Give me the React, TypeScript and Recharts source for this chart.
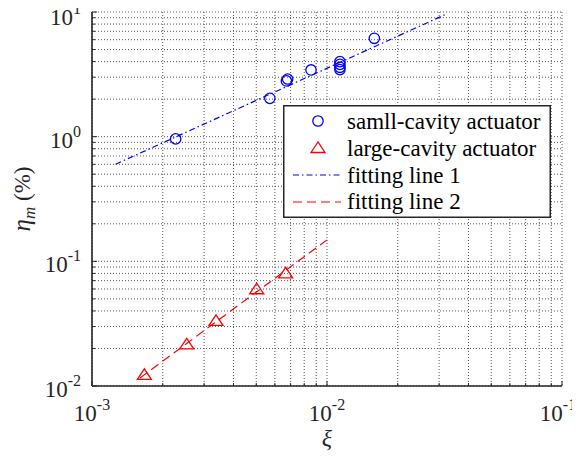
import React from 'react';
import {
    ComposedChart,
    Scatter,
    Line,
    XAxis,
    YAxis,
    CartesianGrid,
    Legend,
} from 'recharts';

const smallXi = [0.00227, 0.00571, 0.00672, 0.0068, 0.00855, 0.01135, 0.01135, 0.01135, 0.01135, 0.0159];
const smallEta = [0.96, 2.03, 2.8, 2.9, 3.43, 4.0, 3.8, 3.6, 3.45, 6.15];

const largeXi = [0.00167, 0.00253, 0.00337, 0.00502, 0.00667];
const largeEta = [0.0123, 0.0216, 0.0333, 0.0597, 0.0802];

// fitting lines (end points)
const fit1Xi = [0.00126, 0.0323];
const fit1Eta = [0.601, 9.65];
const fit2Xi = [0.0016, 0.01];
const fit2Eta = [0.0116, 0.1486];

const seriesNames = ['samll-cavity actuator', 'large-cavity actuator', 'fitting line 1', 'fitting line 2'];

const xMajor = [0.001, 0.01, 0.1];
const yMajor = [0.01, 0.1, 1, 10];
const xExp = ['-3', '-2', '-1'];
const yExp = ['-2', '-1', '0', '1'];

const minorOf = (majors: number[]) => {
    const out: number[] = [];
    majors.forEach((m, i) => {
        out.push(m);
        if (i < majors.length - 1) {
            for (let k = 2; k <= 9; k++) out.push(+(m * k).toPrecision(3));
        }
    });
    return out;
};
const xTicks = minorOf(xMajor);
const yTicks = minorOf(yMajor);

const smallData = smallXi.map((x, i) => ({ x, y: smallEta[i] }));
const largeData = largeXi.map((x, i) => ({ x, y: largeEta[i] }));
const fit1Data = fit1Xi.map((x, i) => ({ x, y: fit1Eta[i] }));
const fit2Data = fit2Xi.map((x, i) => ({ x, y: fit2Eta[i] }));

const SERIF = { fontFamily: "'Liberation Serif', 'DejaVu Serif', serif" };
const FRAME = '#262626';
const BLUE = '#0000ff';
const RED = '#ff0000';

const isMajor = (v: number, majors: number[]) => majors.some((m) => Math.abs(v - m) / m < 1e-6);

const BottomTick = (props: any) => {
    const { x, y, payload } = props;
    const v = payload.value;
    const major = isMajor(v, xMajor);
    const len = major ? 5 : 3;
    const idx = xMajor.findIndex((m) => Math.abs(v - m) / m < 1e-6);
    // last label is pulled in a little, as in the original figure
    const lx = idx === xMajor.length - 1 ? x - 4 : x;
    return (
        <g>
            <line x1={x} x2={x} y1={y} y2={y - len} stroke={FRAME} strokeWidth={1} />
            {major && (
                <text x={lx} y={y + 35} textAnchor="middle" style={SERIF} fontSize={23} fill="#262626">
                    10
                    <tspan dy={-11} fontSize={16}>{xExp[idx]}</tspan>
                </text>
            )}
        </g>
    );
};

const TopTick = (props: any) => {
    const { x, y, payload } = props;
    const len = isMajor(payload.value, xMajor) ? 5 : 3;
    return <line x1={x} x2={x} y1={y} y2={y + len} stroke={FRAME} strokeWidth={1} />;
};

const LeftTick = (props: any) => {
    const { x, y, payload } = props;
    const v = payload.value;
    const major = isMajor(v, yMajor);
    const len = major ? 5 : 3;
    const idx = yMajor.findIndex((m) => Math.abs(v - m) / m < 1e-6);
    const base = v === 10 ? y + 13 : y + 11;
    return (
        <g>
            <line x1={x} x2={x + len} y1={y} y2={y} stroke={FRAME} strokeWidth={1} />
            {major && (
                <text x={x - 11} y={base} textAnchor="end" style={SERIF} fontSize={23} fill="#262626">
                    10
                    <tspan dy={-11} fontSize={16}>{yExp[idx]}</tspan>
                </text>
            )}
        </g>
    );
};

const RightTick = (props: any) => {
    const { x, y, payload } = props;
    const len = isMajor(payload.value, yMajor) ? 5 : 3;
    return <line x1={x} x2={x - len} y1={y} y2={y} stroke={FRAME} strokeWidth={1} />;
};

const Circle = (props: any) => {
    const { cx, cy } = props;
    return <circle cx={cx} cy={cy} r={5.2} fill="none" stroke={BLUE} strokeWidth={1.3} />;
};

const Triangle = (props: any) => {
    const { cx, cy } = props;
    const h = 6;
    return (
        <polygon
            points={`${cx},${cy - h} ${cx - 7},${cy + h * 0.75} ${cx + 7},${cy + h * 0.75}`}
            fill="none"
            stroke={RED}
            strokeWidth={1.3}
        />
    );
};

const LegendBox = () => (
    <svg width={268} height={113} style={{ display: 'block' }}>
        <rect x={0.75} y={0.75} width={266.5} height={111.5} fill="#fff" stroke={FRAME} strokeWidth={1.5} />
        <circle cx={35} cy={16} r={5.2} fill="none" stroke={BLUE} strokeWidth={1.3} />
        <polygon points="35,37 28,47.5 42,47.5" fill="none" stroke={RED} strokeWidth={1.3} />
        <line x1={10} x2={58} y1={70} y2={70} stroke={BLUE} strokeWidth={1.2} strokeDasharray="6 3 1.5 3" />
        <line x1={10} x2={58} y1={97} y2={97} stroke={RED} strokeWidth={1.2} strokeDasharray="9 5" />
        {seriesNames.map((n, i) => (
            <text key={n} x={64} y={24 + i * 26.8} style={SERIF} fontSize={23} fill="#000">
                {n}
            </text>
        ))}
    </svg>
);

const YLabel = (props: any) => {
    const { viewBox } = props;
    const cx = 30;
    const cy = viewBox.y + viewBox.height / 2;
    return (
        <text
            x={cx}
            y={cy}
            transform={`rotate(-90, ${cx}, ${cy})`}
            textAnchor="middle"
            style={SERIF}
            fontSize={23}
            fill="#262626"
        >
            <tspan fontStyle="italic" fontSize={25}>η</tspan>
            <tspan fontStyle="italic" fontSize={17} dy={5}>m</tspan>
            <tspan dy={-5}> (%)</tspan>
        </text>
    );
};

const XLabel = (props: any) => {
    const { viewBox } = props;
    const cx = viewBox.x + viewBox.width / 2;
    return (
        <text x={cx} y={446} textAnchor="middle" style={SERIF} fontSize={24} fontStyle="italic" fill="#262626">
            ξ
        </text>
    );
};

const App = () => {
    return (
        <div style={{ margin: -8 }}>
            <ComposedChart width={580} height={459} margin={{ top: 12, right: 18, bottom: 0, left: 0 }}>
                <CartesianGrid stroke="#555" strokeDasharray="1 2" strokeWidth={1} />
                <XAxis
                    dataKey="x"
                    type="number"
                    scale="log"
                    domain={[0.001, 0.1]}
                    allowDataOverflow
                    ticks={xTicks}
                    interval={0}
                    tickSize={0}
                    tickMargin={0}
                    tick={<BottomTick />}
                    axisLine={{ stroke: FRAME, strokeWidth: 1.6 }}
                    height={73}
                    label={<XLabel />}
                />
                <XAxis
                    xAxisId="top"
                    orientation="top"
                    dataKey="x"
                    type="number"
                    scale="log"
                    domain={[0.001, 0.1]}
                    allowDataOverflow
                    ticks={xTicks}
                    interval={0}
                    tickSize={0}
                    tickMargin={0}
                    tick={<TopTick />}
                    axisLine={{ stroke: FRAME, strokeWidth: 1.6 }}
                    height={0}
                />
                <YAxis
                    dataKey="y"
                    type="number"
                    scale="log"
                    domain={[0.01, 10]}
                    allowDataOverflow
                    ticks={yTicks}
                    interval={0}
                    tickSize={0}
                    tickMargin={0}
                    tick={<LeftTick />}
                    axisLine={{ stroke: FRAME, strokeWidth: 1.6 }}
                    width={92}
                    label={<YLabel />}
                />
                <YAxis
                    yAxisId="right"
                    orientation="right"
                    dataKey="y"
                    type="number"
                    scale="log"
                    domain={[0.01, 10]}
                    allowDataOverflow
                    ticks={yTicks}
                    interval={0}
                    tickSize={0}
                    tickMargin={0}
                    tick={<RightTick />}
                    axisLine={{ stroke: FRAME, strokeWidth: 1.6 }}
                    width={0}
                />
                <Line
                    data={fit1Data}
                    dataKey="y"
                    name={seriesNames[2]}
                    stroke={BLUE}
                    strokeWidth={1.2}
                    strokeDasharray="6 3 1.5 3"
                    dot={false}
                    activeDot={false}
                    isAnimationActive={false}
                />
                <Line
                    data={fit2Data}
                    dataKey="y"
                    name={seriesNames[3]}
                    stroke={RED}
                    strokeWidth={1.2}
                    strokeDasharray="9 5"
                    dot={false}
                    activeDot={false}
                    isAnimationActive={false}
                />
                <Scatter data={smallData} dataKey="y" name={seriesNames[0]} shape={<Circle />} isAnimationActive={false} />
                <Scatter data={largeData} dataKey="y" name={seriesNames[1]} shape={<Triangle />} isAnimationActive={false} />
                <Legend
                    layout="vertical"
                    align="center"
                    verticalAlign="middle"
                    content={<LegendBox />}
                    wrapperStyle={{ left: 283, top: 105, width: 268, height: 113 }}
                />
            </ComposedChart>
        </div>
    );
};

export default App;
